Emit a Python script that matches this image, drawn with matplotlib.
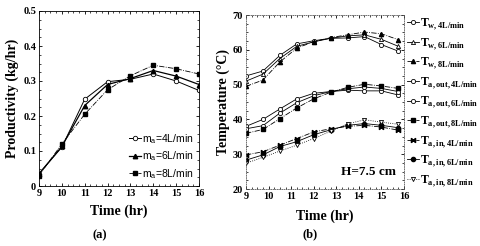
import matplotlib.pyplot as plt
from matplotlib.ticker import MultipleLocator

# ---- data (a): productivity
hours = [9, 10, 11, 12, 13, 14, 15, 16]
prod_4 = [0.035, 0.111, 0.248, 0.298, 0.305, 0.320, 0.300, 0.273]
prod_6 = [0.035, 0.113, 0.230, 0.290, 0.307, 0.330, 0.314, 0.290]
prod_8 = [0.030, 0.120, 0.205, 0.275, 0.315, 0.345, 0.335, 0.320]

# ---- data (b): temperatures
t_hr = [9, 9.75, 10.5, 11.25, 12, 12.75, 13.5, 14.25, 15, 15.75]
tw_4 = [52.5, 53.9, 58.4, 61.7, 62.6, 63.3, 63.4, 63.8, 61.5, 59.6]
tw_6 = [51.0, 53.0, 57.5, 61.0, 62.3, 63.3, 64.0, 64.3, 63.0, 61.0]
tw_8 = [49.5, 51.3, 56.5, 60.5, 62.3, 63.5, 64.3, 65.1, 64.6, 62.9]
tout_4 = [38.0, 40.0, 43.0, 45.9, 47.5, 48.0, 48.4, 48.2, 48.2, 47.0]
tout_6 = [37.3, 38.2, 41.8, 44.8, 46.8, 48.0, 48.8, 49.3, 48.9, 48.0]
tout_8 = [36.0, 37.1, 40.2, 43.3, 45.9, 47.8, 49.2, 50.1, 49.6, 48.9]
tin_4 = [29.8, 30.7, 32.6, 34.5, 36.4, 37.3, 38.0, 38.3, 37.8, 36.9]
tin_6 = [28.3, 29.8, 32.2, 33.6, 35.6, 37.0, 38.3, 38.8, 38.3, 37.6]
tin_8 = [27.4, 29.1, 30.9, 32.6, 34.5, 36.6, 38.7, 39.9, 39.2, 38.6]

serif = 'Liberation Serif'
sans = 'Liberation Sans'
plt.rcParams['mathtext.fontset'] = 'custom'
plt.rcParams['mathtext.rm'] = 'Liberation Serif'
plt.rcParams['mathtext.bf'] = 'Liberation Serif:bold'
plt.rcParams['mathtext.sf'] = 'Liberation Sans'

fig = plt.figure(figsize=(4.8, 2.46), dpi=100)

def style_ax(ax):
    ax.tick_params(direction='in', top=True, right=True, length=2.5, width=0.6, labelsize=7.5, pad=2)
    ax.tick_params(which='minor', direction='in', top=True, right=True, length=1.5, width=0.5)
    for lab in ax.get_xticklabels() + ax.get_yticklabels():
        lab.set_fontfamily(serif)
        lab.set_fontweight('bold')
    for s in ax.spines.values():
        s.set_linewidth(0.6)

# (a)
ax1 = fig.add_axes([39/480, 1 - 186/246, 160/480, 175/246])
ax1.plot(hours, prod_4, '-', color='k', lw=0.7, marker='o', ms=3.2, mfc='white', mew=0.6, label=r'm$_\mathsf{a}$=4L/min')
ax1.plot(hours, prod_6, '-', color='k', lw=0.9, marker='^', ms=3.2, label=r'm$_\mathsf{a}$=6L/min')
ax1.plot(hours, prod_8, '-.', color='k', lw=0.6, marker='s', ms=2.8, label=r'm$_\mathsf{a}$=8L/min')
ax1.set_xlim(9, 16)
ax1.set_ylim(0, 0.5)
ax1.set_xticks(range(9, 17))
ax1.set_yticks([0, 0.1, 0.2, 0.3, 0.4, 0.5])
ax1.set_yticklabels(['0', '0.1', '0.2', '0.3', '0.4', '0.5'])
ax1.xaxis.set_minor_locator(MultipleLocator(0.25))
ax1.yaxis.set_minor_locator(MultipleLocator(0.025))
style_ax(ax1)
ax1.set_xlabel('Time (hr)', fontfamily=serif, fontweight='bold', fontsize=10, labelpad=5)
ax1.set_ylabel('Productivity (kg/hr)', fontfamily=serif, fontweight='bold', fontsize=10, labelpad=3)
ax1.legend(loc='lower right', frameon=False, prop={'family': sans, 'size': 7.5},
           handlelength=1.2, handletextpad=0.1, labelspacing=0.35, borderaxespad=0.1)
fig.text(100/480, 1 - 235/246, '(a)', fontfamily=serif, fontweight='bold', fontsize=9, ha='center', va='center')

# (b)
ax2 = fig.add_axes([246/480, 1 - 189/246, 158/480, 174/246])
kw = dict(color='k', lw=0.6, ms=3.0)
ax2.plot(t_hr, tw_4, '-', marker='o', mfc='white', mew=0.6, label=r'T$_\mathbf{w,4L/min}$', **kw)
ax2.plot(t_hr, tw_6, '-', marker='^', mfc='white', mew=0.6, label=r'T$_\mathbf{w,6L/min}$', **kw)
ax2.plot(t_hr, tw_8, '-.', marker='^', label=r'T$_\mathbf{w,8L/min}$', **kw)
ax2.plot(t_hr, tout_4, '-', marker='o', mfc='white', mew=0.6, label=r'T$_\mathbf{a,out,4L/min}$', **kw)
ax2.plot(t_hr, tout_6, '-', marker='o', mfc='white', mew=0.6, label=r'T$_\mathbf{a,out,6L/min}$', **kw)
ax2.plot(t_hr, tout_8, '-.', marker='s', label=r'T$_\mathbf{a,out,8L/min}$', **kw)
ax2.plot(t_hr, tin_4, '-.', marker='$\\Join$', label=r'T$_\mathbf{a,in,4L/min}$', **kw)
ax2.plot(t_hr, tin_6, '-', marker='o', label=r'T$_\mathbf{a,in,6L/min}$', **kw)
ax2.plot(t_hr, tin_8, ':', marker='v', mfc='white', mew=0.6, label=r'T$_\mathbf{a,in,8L/min}$', **kw)
ax2.set_xlim(9, 16)
ax2.set_ylim(20, 70)
ax2.set_xticks(range(9, 17))
ax2.set_yticks(range(20, 71, 10))
ax2.xaxis.set_minor_locator(MultipleLocator(0.25))
ax2.yaxis.set_minor_locator(MultipleLocator(2.5))
style_ax(ax2)
for s in ax2.spines.values():
    s.set_linestyle(':')
    s.set_color('0.35')
ax2.set_xlabel('Time (hr)', fontfamily=serif, fontweight='bold', fontsize=10, labelpad=6)
ax2.set_ylabel('Temperature (°C)', fontfamily=serif, fontweight='bold', fontsize=10, labelpad=2)
ax2.text(0.95, 0.1, 'H=7.5 cm', transform=ax2.transAxes, fontfamily=serif, fontweight='bold',
         fontsize=9.5, ha='right', va='center')
ax2.legend(loc='upper left', bbox_to_anchor=(0.99, 1.02), frameon=False,
           prop={'family': serif, 'weight': 'bold', 'size': 8.5},
           handlelength=1.0, handletextpad=0.1, labelspacing=0.32, borderaxespad=0.0)
fig.text(310/480, 1 - 234/246, '(b)', fontfamily=serif, fontweight='bold', fontsize=9, ha='center', va='center')

fig.savefig('out.png', dpi=100)
